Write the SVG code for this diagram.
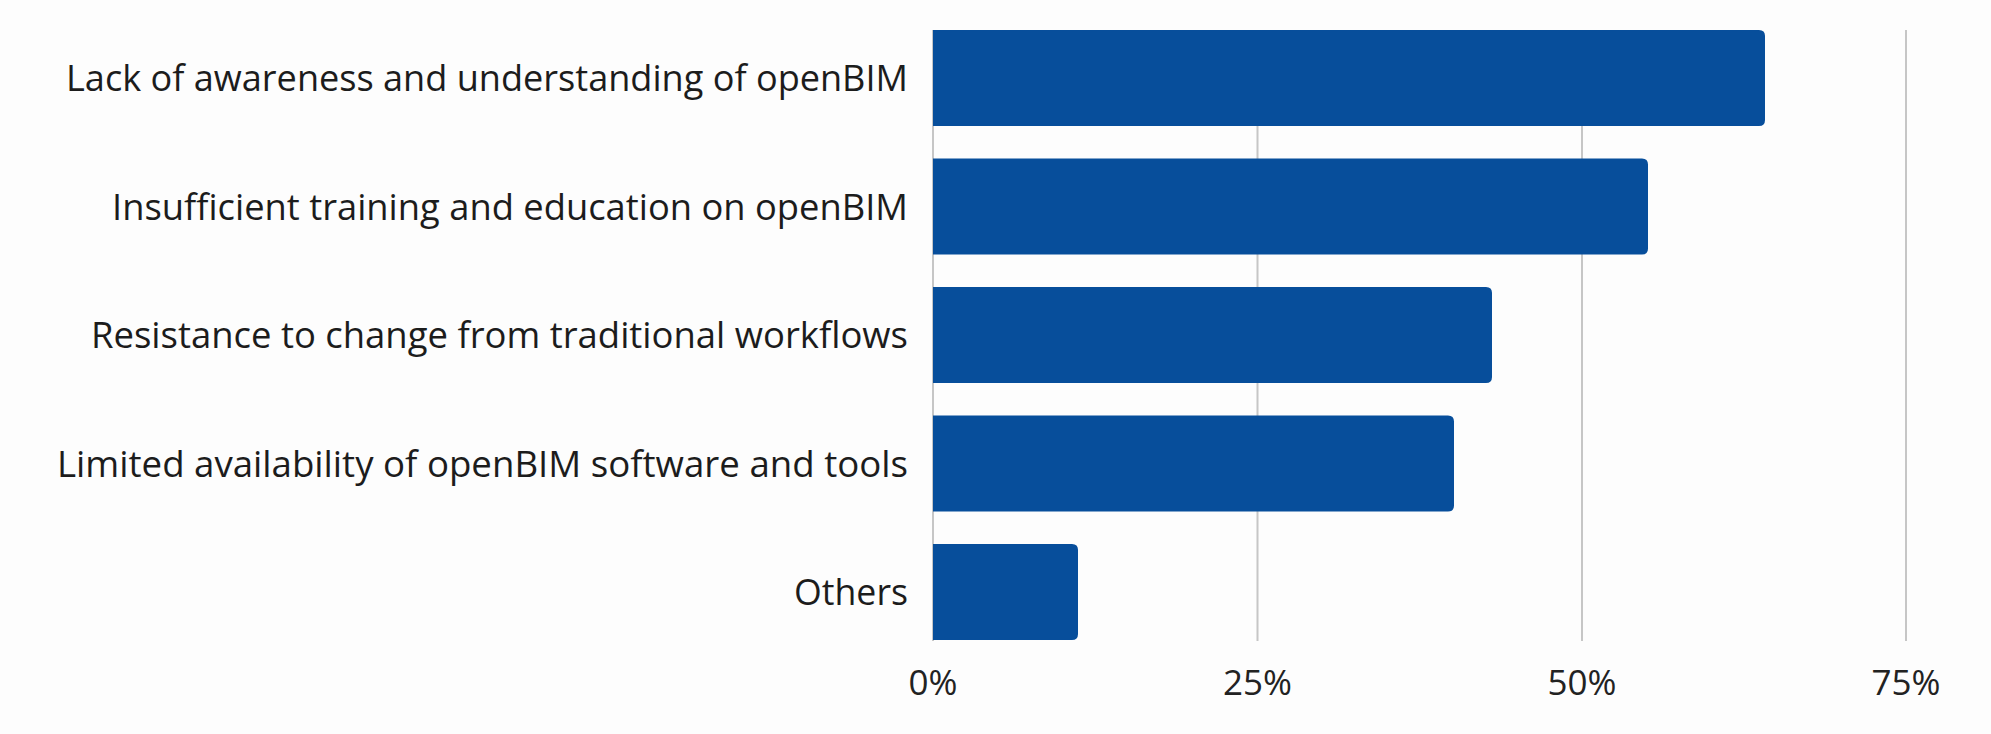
<svg xmlns="http://www.w3.org/2000/svg" width="1991" height="734" viewBox="0 0 1991 734">
<style>
.grid{stroke:#c6c6c6;stroke-width:2}
.bar{fill:#074e9b}
.lbl{font-family:"Open Sans","Liberation Sans",sans-serif;font-size:36px;fill:#1c1c1c;text-anchor:end}
.tick{font-family:"Open Sans","Liberation Sans",sans-serif;font-size:35px;fill:#222;text-anchor:middle}
</style>
<rect width="1991" height="734" fill="#fdfdfd"/>
<g id="gridlines">
<line class="grid" x1="933" y1="30" x2="933" y2="641"/>
<line class="grid" x1="1257.5" y1="30" x2="1257.5" y2="641"/>
<line class="grid" x1="1582" y1="30" x2="1582" y2="641"/>
<line class="grid" x1="1906" y1="30" x2="1906" y2="641"/>
</g>
<g id="bar1"><path class="bar" d="M933 30 H1759 Q1765 30 1765 36 V120 Q1765 126 1759 126 H933 Z"/>
<text class="lbl" x="908" y="91" textLength="842" lengthAdjust="spacingAndGlyphs">Lack of awareness and understanding of openBIM</text></g>
<g id="bar2"><path class="bar" d="M933 158.5 H1642 Q1648 158.5 1648 164.5 V248.5 Q1648 254.5 1642 254.5 H933 Z"/>
<text class="lbl" x="908" y="219.5" textLength="796" lengthAdjust="spacingAndGlyphs">Insufficient training and education on openBIM</text></g>
<g id="bar3"><path class="bar" d="M933 287 H1486 Q1492 287 1492 293 V377 Q1492 383 1486 383 H933 Z"/>
<text class="lbl" x="908" y="348" textLength="817" lengthAdjust="spacingAndGlyphs">Resistance to change from traditional workflows</text></g>
<g id="bar4"><path class="bar" d="M933 415.5 H1448 Q1454 415.5 1454 421.5 V505.5 Q1454 511.5 1448 511.5 H933 Z"/>
<text class="lbl" x="908" y="476.5" textLength="851" lengthAdjust="spacingAndGlyphs">Limited availability of openBIM software and tools</text></g>
<g id="bar5"><path class="bar" d="M933 544 H1072 Q1078 544 1078 550 V634 Q1078 640 1072 640 H933 Z"/>
<text class="lbl" x="908" y="605" textLength="114" lengthAdjust="spacingAndGlyphs">Others</text></g>
<g id="axis">
<text class="tick" x="933" y="695">0%</text>
<text class="tick" x="1257.5" y="695">25%</text>
<text class="tick" x="1582" y="695">50%</text>
<text class="tick" x="1906" y="695">75%</text>
</g>
</svg>
